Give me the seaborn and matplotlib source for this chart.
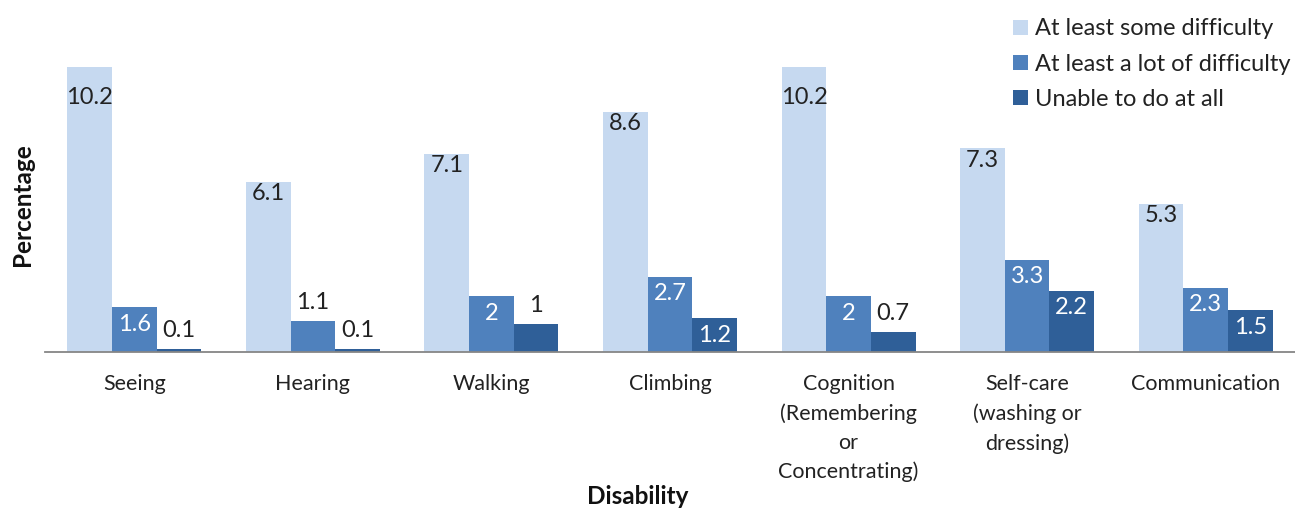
import matplotlib
matplotlib.use("Agg")
import matplotlib.pyplot as plt
import seaborn as sns
import pandas as pd
import numpy as np

categories = ["Seeing", "Hearing", "Walking", "Climbing",
              "Cognition\n(Remembering\nor\nConcentrating)",
              "Self-care\n(washing or\ndressing)", "Communication"]
series = ["At least some difficulty", "At least a lot of difficulty", "Unable to do at all"]
some_difficulty = [10.2, 6.1, 7.1, 8.6, 10.2, 7.3, 5.3]
lot_difficulty = [1.6, 1.1, 2.0, 2.7, 2.0, 3.3, 2.3]
unable = [0.1, 0.1, 1.0, 1.2, 0.7, 2.2, 1.5]
value_labels = [
    ["10.2", "6.1", "7.1", "8.6", "10.2", "7.3", "5.3"],
    ["1.6", "1.1", "2", "2.7", "2", "3.3", "2.3"],
    ["0.1", "0.1", "1", "1.2", "0.7", "2.2", "1.5"],
]
colors = ["#c6d9f0", "#4f81bd", "#2f5f98"]

rows = []
for s, vals in zip(series, [some_difficulty, lot_difficulty, unable]):
    for c, v in zip(categories, vals):
        rows.append({"Disability": c, "Series": s, "Percentage": v})
df = pd.DataFrame(rows)

sns.set_style("white")
plt.rcParams["font.family"] = ["Lato", "DejaVu Sans"]

fig = plt.figure(figsize=(12.95, 5.08), dpi=100)
ax = fig.add_axes([45 / 1295, 1 - 352 / 508, 1 - 45 / 1295, (352 - 67) / 508])

sns.barplot(data=df, x="Disability", y="Percentage", hue="Series",
            order=categories, hue_order=series, palette=colors,
            width=0.75, saturation=1, linewidth=0, ax=ax, legend=True)

ax.set_ylim(0, 10.2)
ax.set_xlim(-0.5, len(categories) - 0.5)
for sp in ["top", "right", "left"]:
    ax.spines[sp].set_visible(False)
ax.spines["bottom"].set_color("#868686")
ax.spines["bottom"].set_linewidth(1.3)
ax.set_yticks([])
ax.set_ylabel("")
ax.set_xlabel("")

ax.set_xticks(range(len(categories)))
ax.set_xticklabels(categories, fontsize=15.5, color="#222222", linespacing=1.55)
ax.tick_params(axis="x", which="major", length=0, pad=16)
ax.set_xticks(np.arange(-0.5, len(categories) + 0.5, 1), minor=True)
ax.tick_params(axis="x", which="minor", length=8, color="#868686", width=1.3, direction="out")

px = 10.2 / 285.0  # data units per pixel
for si, cont in enumerate(ax.containers):
    for bi, bar in enumerate(cont):
        v = bar.get_height()
        xc = bar.get_x() + bar.get_width() / 2
        lab = value_labels[si][bi]
        if si == 0:
            y = v - 12 * px if v < 10 else v - 30 * px
            ax.text(xc, y, lab, ha="center", va="center", fontsize=17, color="#222222")
        elif v >= 1.2:
            y = max(v - 17 * px, v / 2)
            ax.text(xc, y, lab, ha="center", va="center", fontsize=17, color="white")
        else:
            ax.text(xc, v + 8 * px, lab, ha="center", va="bottom", fontsize=17, color="#222222")

leg = ax.legend(loc="upper left", bbox_to_anchor=(1004 / 1295, 1 - 9 / 508),
                bbox_transform=fig.transFigure, frameon=False, fontsize=17,
                handlelength=0.6, handleheight=0.6, handletextpad=0.3,
                labelspacing=0.6, borderaxespad=0)
for t in leg.get_texts():
    t.set_color("#222222")

fig.text(22 / 1295, 1 - 205 / 508, "Percentage", rotation=90, ha="center", va="center",
         fontsize=17.5, fontweight="bold", color="#111111")
fig.text(638 / 1295, 1 - 496 / 508, "Disability", ha="center", va="center",
         fontsize=17.5, fontweight="bold", color="#111111")

fig.savefig("out.png", dpi=100)
